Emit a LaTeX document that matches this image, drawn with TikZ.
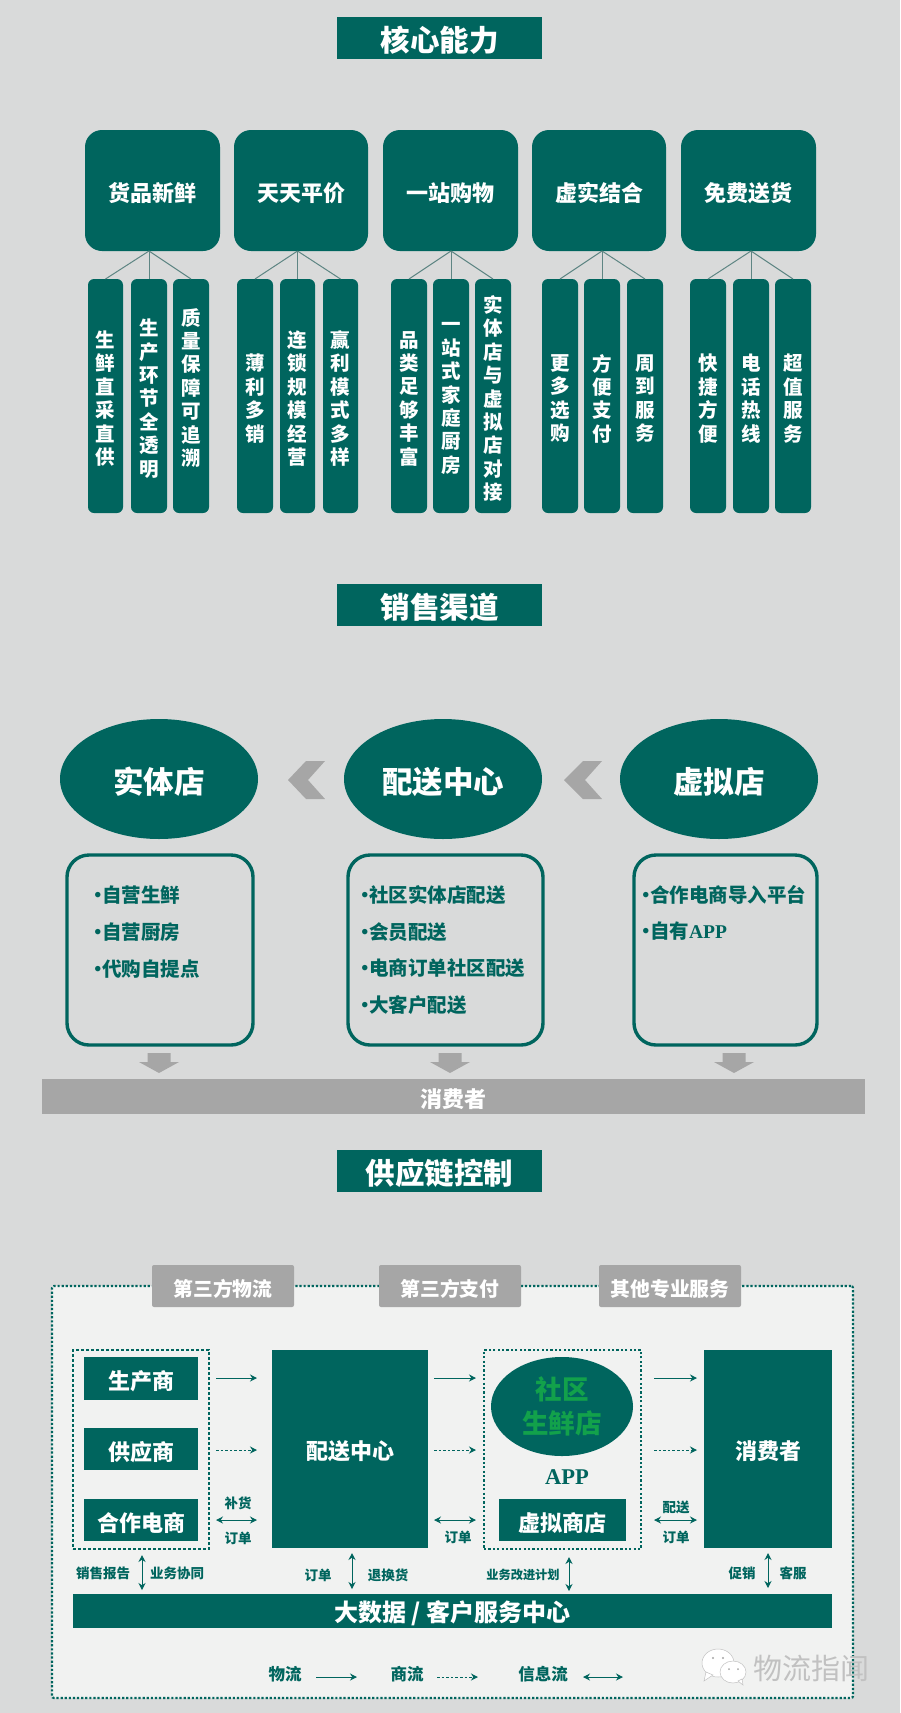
\documentclass[tikz,border=0pt]{standalone}
\usepackage{fontspec}
\setmainfont{Noto Sans CJK SC}
\newfontfamily\lserif{Liberation Serif}
\usetikzlibrary{arrows.meta,shapes.geometric,calc}
\definecolor{tealg}{HTML}{00655E}
\definecolor{bgc}{HTML}{D9DADA}
\definecolor{grayc}{HTML}{A6A6A6}
\definecolor{panelc}{HTML}{F1F2F1}
\definecolor{linkc}{HTML}{5E8583}
\definecolor{leafgreen}{HTML}{12A14B}
\newcommand{\fs}[2]{\fontsize{#1}{#2}\selectfont\bfseries}
% box given by corners: style, name, x1, y1, x2, y2, text
\newcommand{\bx}[7]{\node[#1,minimum width={#5pt-#3pt},minimum height={#6pt-#4pt}] (#2) at ({(#3+#5)/2},{(#4+#6)/2}) {\raisebox{-2.6pt}[\height][\depth]{#7}};}
\newcommand{\vt}[1]{\parbox{30pt}{\centering #1}}
\newcommand{\bul}{\makebox[7pt][c]{·}}
\tikzset{
  x=1pt,y=-1pt,
  every node/.style={inner sep=0pt,outer sep=0pt},
  titlebox/.style={fill=tealg,text=white,font=\fs{29.5}{32}},
  corebox/.style={fill=tealg,text=white,rounded corners=17pt,font=\fs{22}{26}},
  subbox/.style={fill=tealg,text=white,rounded corners=6pt,font=\fs{19.5}{23.4}},
  tie/.style={draw=linkc,line width=1pt},
  chan/.style={ellipse,fill=tealg,text=white,font=\fs{30.5}{34}},
  listbox/.style={draw=tealg,line width=3.4pt,rounded corners=22pt,fill=bgc},
  listtext/.style={text=tealg,anchor=west,align=left,font=\fs{19.5}{36.6}},
  graybar/.style={fill=grayc,text=white,font=\fs{22}{24}},
  tabbox/.style={fill=grayc,text=white,rounded corners=2pt,font=\fs{19.8}{24}},
  panel/.style={draw=tealg,fill=panelc,line width=2.2pt,dash pattern=on 2.2pt off 1.9pt,rounded corners=2pt},
  groupa/.style={draw=tealg,line width=2.8pt,dash pattern=on 2.8pt off 2.2pt},
  groupb/.style={draw=tealg,line width=2.2pt,dash pattern=on 2.2pt off 2.2pt},
  solidbox/.style={fill=tealg,text=white,font=\fs{22}{26}},
  flow/.style={draw=tealg,line width=1pt,-{Stealth[length=7pt,width=7pt]}},
  flowd/.style={flow,dash pattern=on 2.6pt off 2pt},
  flowb/.style={draw=tealg,line width=1pt,{Stealth[length=7pt,width=7pt]}-{Stealth[length=7pt,width=7pt]}},
  small/.style={text=tealg,font=\fs{13.5}{16}},
  legend/.style={text=tealg,font=\fs{16.5}{20}}
}
\begin{document}
\begin{tikzpicture}
\useasboundingbox (0,0) rectangle (900,1713);
\fill[bgc] (0,0) rectangle (900,1713);

% titles
\bx{titlebox}{t1}{337}{17}{542}{59}{核心能力}
\bx{titlebox}{t2}{337}{584}{542}{626}{销售渠道}
\bx{titlebox}{t3}{337}{1150}{542}{1192}{供应链控制}

% core capabilities
\bx{corebox}{c1}{85}{130}{220}{251}{货品新鲜}
\bx{corebox}{c2}{234}{130}{368}{251}{天天平价}
\bx{corebox}{c3}{383}{130}{518}{251}{一站购物}
\bx{corebox}{c4}{532}{130}{666}{251}{虚实结合}
\bx{corebox}{c5}{681}{130}{816}{251}{免费送货}

\bx{subbox}{s11}{88}{279}{123}{513}{\vt{生\\鲜\\直\\采\\直\\供}}
\bx{subbox}{s12}{131}{279}{167}{513}{\vt{生\\产\\环\\节\\全\\透\\明}}
\bx{subbox}{s13}{173}{279}{209}{513}{\vt{质\\量\\保\\障\\可\\追\\溯\\~}}
\bx{subbox}{s21}{237}{279}{273}{513}{\vt{薄\\利\\多\\销}}
\bx{subbox}{s22}{280}{279}{315}{513}{\vt{连\\锁\\规\\模\\经\\营}}
\bx{subbox}{s23}{323}{279}{358}{513}{\vt{赢\\利\\模\\式\\多\\样}}
\bx{subbox}{s31}{391}{279}{427}{513}{\vt{品\\类\\足\\够\\丰\\富}}
\bx{subbox}{s32}{433}{279}{469}{513}{\vt{一\\站\\式\\家\\庭\\厨\\房}}
\bx{subbox}{s33}{475}{279}{511}{513}{\vt{实\\体\\店\\与\\虚\\拟\\店\\对\\接}}
\bx{subbox}{s41}{542}{279}{578}{513}{\vt{更\\多\\选\\购}}
\bx{subbox}{s42}{584}{279}{620}{513}{\vt{方\\便\\支\\付}}
\bx{subbox}{s43}{627}{279}{663}{513}{\vt{周\\到\\服\\务}}
\bx{subbox}{s51}{690}{279}{726}{513}{\vt{快\\捷\\方\\便}}
\bx{subbox}{s52}{733}{279}{769}{513}{\vt{电\\话\\热\\线}}
\bx{subbox}{s53}{775}{279}{811}{513}{\vt{超\\值\\服\\务}}

\foreach \c in {1,...,5}{
  \coordinate (tip\c) at (s\c2.north |- c\c.south);
  \draw[tie] (tip\c) -- (s\c1.north);
  \draw[tie] (tip\c) -- (s\c2.north);
  \draw[tie] (tip\c) -- (s\c3.north);
}

% sales channels
\bx{chan}{e1}{60}{719}{258}{839}{实体店}
\bx{chan}{e2}{344}{719}{542}{839}{配送中心}
\bx{chan}{e3}{620}{719}{818}{839}{虚拟店}

\fill[grayc] (325,761) -- (306,761) -- (288,780) -- (306,799) -- (325,799) -- (308,780) -- cycle;
\fill[grayc] (602,761) -- (583,761) -- (564,780) -- (583,799) -- (602,799) -- (585,780) -- cycle;

\bx{listbox}{l1}{67}{855}{253}{1045}{}
\bx{listbox}{l2}{348}{855}{543}{1045}{}
\bx{listbox}{l3}{634}{855}{817}{1045}{}
\node[listtext] (lt1) at (95,932) {\bul 自营生鲜\\\bul 自营厨房\\\bul 代购自提点};
\node[listtext] (lt2) at (362,950) {\bul 社区实体店配送\\\bul 会员配送\\\bul 电商订单社区配送\\\bul 大客户配送};
\node[listtext] (lt3) at (643,913) {\bul 合作电商导入平台\\\bul 自有{\lserif APP}};

\foreach \x in {159,450,734}{
  \fill[grayc] (\x-11.5,1053) -- (\x+11.5,1053) -- (\x+11.5,1062) -- (\x+20,1062) -- (\x,1073) -- (\x-20,1062) -- (\x-11.5,1062) -- cycle;
}
\bx{graybar}{cons}{42}{1079}{865}{1114}{消费者}

% supply chain panel
\bx{panel}{pan}{52}{1286}{853}{1698}{}
\bx{tabbox}{tb1}{152}{1265}{294}{1307}{第三方物流}
\bx{tabbox}{tb2}{379}{1265}{521}{1307}{第三方支付}
\bx{tabbox}{tb3}{599}{1265}{741}{1307}{其他专业服务}

\bx{groupa}{g1}{73}{1350}{209}{1549}{}
\bx{groupb}{g2}{484}{1350}{641}{1549}{}
\bx{solidbox}{p1}{84}{1357}{198}{1400}{生产商}
\bx{solidbox}{p2}{84}{1428}{198}{1470}{供应商}
\bx{solidbox}{p3}{84}{1499}{198}{1541}{合作电商}
\bx{solidbox}{dc}{272}{1350}{428}{1548}{配送中心}
\bx{solidbox}{cs}{704}{1350}{832}{1548}{消费者}
\bx{solidbox}{vs}{499}{1499}{626}{1541}{虚拟商店}
\node[ellipse,fill=tealg,text=leafgreen,align=center,minimum width=142pt,minimum height=99pt,font=\fs{26.5}{34}] (shop) at (562,1406.5) {社区\\生鲜店};
\node[text=tealg,font={\lserif\fontsize{22.5}{24}\selectfont\bfseries}] (app) at (567,1477) {APP};
\bx{solidbox}{bar}{73}{1594}{832}{1628}{\fs{24}{26}大数据 / 客户服务中心}

\coordinate (r1) at (0,1378);
\coordinate (r2) at (0,1450);
\coordinate (r3) at (0,1520);
\coordinate (va) at (142,0);
\coordinate (vb) at (352,0);
\coordinate (vc) at (569,0);
\coordinate (vd) at (768,0);

\draw[flow,shorten <=7pt,shorten >=15pt] (g1.east |- r1) -- (dc.west |- r1);
\draw[flowd,shorten <=7pt,shorten >=15pt] (g1.east |- r2) -- (dc.west |- r2);
\draw[flowb,shorten <=7pt,shorten >=15pt] (g1.east |- r3) -- (dc.west |- r3);
\draw[flow,shorten <=6pt,shorten >=8pt] (dc.east |- r1) -- (g2.west |- r1);
\draw[flowd,shorten <=6pt,shorten >=8pt] (dc.east |- r2) -- (g2.west |- r2);
\draw[flowb,shorten <=6pt,shorten >=8pt] (dc.east |- r3) -- (g2.west |- r3);
\draw[flow,shorten <=13pt,shorten >=7pt] (g2.east |- r1) -- (cs.west |- r1);
\draw[flowd,shorten <=13pt,shorten >=7pt] (g2.east |- r2) -- (cs.west |- r2);
\draw[flowb,shorten <=13pt,shorten >=7pt] (g2.east |- r3) -- (cs.west |- r3);

\draw[flowb,shorten <=6pt,shorten >=4pt] (va |- g1.south) -- (va |- bar.north);
\draw[flowb,shorten <=5pt,shorten >=5pt] (vb |- dc.south) -- (vb |- bar.north);
\draw[flowb,shorten <=8pt,shorten >=3pt] (vc |- g2.south) -- (vc |- bar.north);
\draw[flowb,shorten <=5pt,shorten >=6pt] (vd |- cs.south) -- (vd |- bar.north);

\node[small] (n1) at (238,1503) {补货};
\node[small] (n2) at (238,1538) {订单};
\node[small] (n3) at (458,1537) {订单};
\node[small] (n4) at (676,1507) {配送};
\node[small] (n5) at (676,1537) {订单};
\node[small] (n6) at (103,1573) {销售报告};
\node[small] (n7) at (177,1573) {业务协同};
\node[small] (n8) at (318,1575) {订单};
\node[small] (n9) at (388,1575) {退换货};
\node[small,font=\fs{12.2}{16}] (n10) at (523,1575) {业务改进计划};
\node[small] (n11) at (742,1573) {促销};
\node[small] (n12) at (793,1573) {客服};

% legend
\node[legend] (k1) at (285,1674) {物流};
\node[legend] (k2) at (407,1674) {商流};
\node[legend] (k3) at (543,1674) {信息流};
\coordinate (k1a) at (316,1677); \coordinate (k1b) at (357,1677);
\coordinate (k2a) at (437,1677); \coordinate (k2b) at (478,1677);
\coordinate (k3a) at (583,1677); \coordinate (k3b) at (623,1677);
\draw[flow] (k1a) -- (k1b);
\draw[flowd] (k2a) -- (k2b);
\draw[flowb] (k3a) -- (k3b);

% watermark
\begin{scope}
\fill[white,draw=grayc!70,line width=0.5pt] (718,1663) ellipse [x radius=16,y radius=14];
\fill[white,draw=grayc!70,line width=0.5pt] (706,1672) -- (704,1681) -- (713,1675) -- cycle;
\fill[white,draw=grayc!70,line width=0.5pt] (733,1672) ellipse [x radius=13,y radius=11];
\fill[white,draw=grayc!70,line width=0.5pt] (738,1681) -- (743,1685) -- (742,1679) -- cycle;
\fill[grayc] (713,1658) circle (1.2) (723,1658) circle (1.2) (729,1669) circle (1) (738,1669) circle (1);
\end{scope}
\node[text=grayc!70,font=\fontsize{29}{32}\selectfont] (wm) at (811,1668) {物流指闻};
\end{tikzpicture}
\end{document}
